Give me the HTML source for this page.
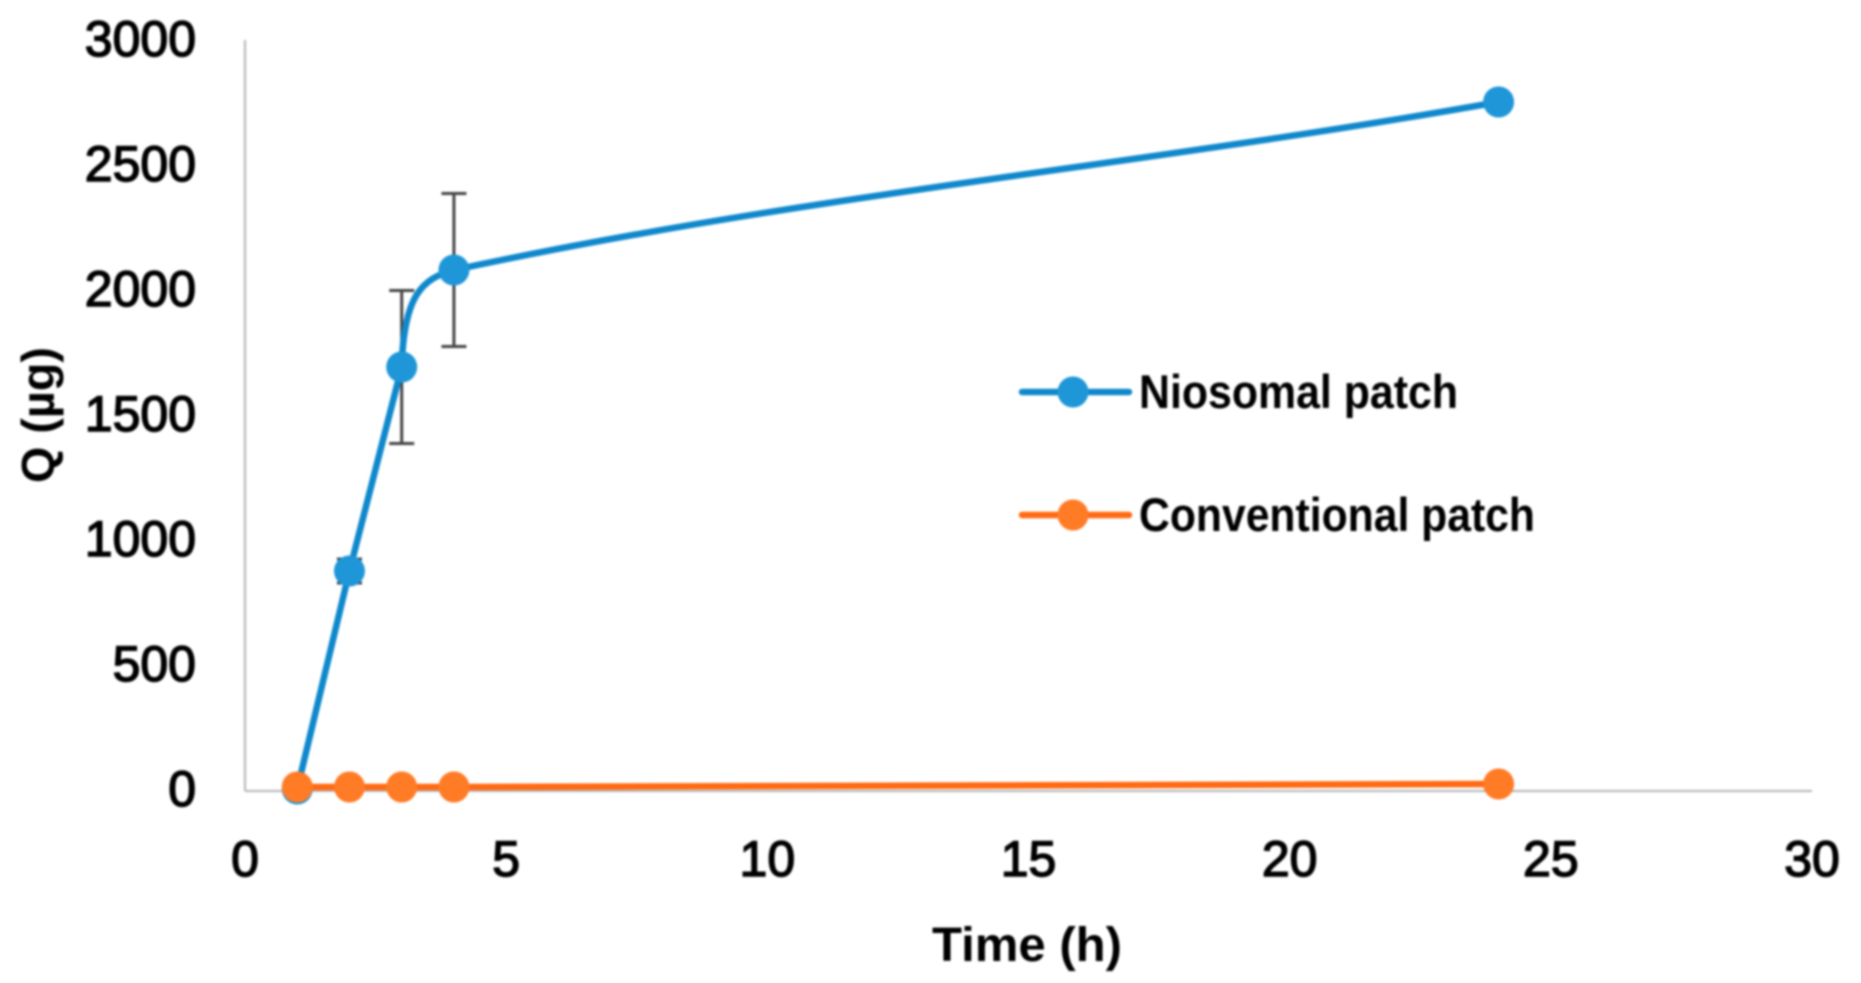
<!DOCTYPE html>
<html lang="en">
<head>
<meta charset="utf-8">
<title>Q vs Time chart</title>
<style>
  html, body { margin: 0; padding: 0; background: #fff; }
  body { width: 1861px; height: 983px; overflow: hidden; }
  svg { display: block; filter: blur(1.1px); }
  text { font-family: "Liberation Sans", sans-serif; fill: #000; }
  .tick { font-size: 50px; stroke: #000; stroke-width: 1.5px; }
  .title { font-size: 48px; font-weight: bold; }
  .legend { font-size: 47px; font-weight: bold; }
</style>
</head>
<body>
<svg id="chart" xmlns="http://www.w3.org/2000/svg" width="1861" height="983" viewBox="0 0 1861 983">
  <rect x="0" y="0" width="1861" height="983" fill="#ffffff"></rect>
  <g id="axes"></g>
  <g id="errors"></g>
  <g id="series"></g>
  <text class="title" x="1027" y="961" text-anchor="middle" textLength="190" lengthAdjust="spacingAndGlyphs">Time (h)</text>
  <text class="title" transform="translate(54,415) rotate(-90)" text-anchor="middle" textLength="136" lengthAdjust="spacingAndGlyphs" style="font-size:46px">Q (µg)</text>
  <g>
    <g>
      <line x1="1022" x2="1129" y1="392" y2="392" stroke="#0f88cc" stroke-width="6.5" stroke-linecap="round"></line>
      <circle cx="1073" cy="392" r="15.5" fill="#1e96d8"></circle>
      <text class="legend" x="1139" y="408" textLength="319" lengthAdjust="spacingAndGlyphs">Niosomal patch</text>
    </g>
    <g>
      <line x1="1022" x2="1129" y1="515" y2="515" stroke="#ff6a13" stroke-width="6.5" stroke-linecap="round"></line>
      <circle cx="1073" cy="515" r="15.5" fill="#ff7b26"></circle>
      <text class="legend" x="1139" y="531" textLength="396" lengthAdjust="spacingAndGlyphs">Conventional patch</text>
    </g>
  </g>
</svg>
<script>
const times = [1, 2, 3, 4, 24];
const niosomal = [8, 880, 1696, 2084, 2756];
const niosomalError = [0, 48, 306, 306, 0];
const conventional = [16, 16, 16, 16, 28];
const xTicks = [0, 5, 10, 15, 20, 25, 30];
const yTicks = [0, 500, 1000, 1500, 2000, 2500, 3000];

const NS = 'http://www.w3.org/2000/svg';
function xScale(v) { return 245 + v * (1812 - 245) / 30; }
function yScale(v) { return 791 - v * 0.25; }
function make(tag, parent, attrs) {
  const el = document.createElementNS(NS, tag);
  for (const k in attrs) el.setAttribute(k, attrs[k]);
  parent.appendChild(el);
  return el;
}

const axes = document.getElementById('axes');
const yAxis = make('line', axes, { x1: xScale(0), x2: xScale(0), y1: 40, y2: yScale(0), stroke: '#b5b5b5', 'stroke-width': 2 });


const xAxis = make('line', axes, { x1: xScale(0), x2: xScale(30), y1: yScale(0), y2: yScale(0), stroke: '#b5b5b5', 'stroke-width': 2 });



xTicks.forEach(function (t) {
  const el = make('text', axes, { class: 'tick', x: xScale(t), y: 876, 'text-anchor': 'middle' });
  
  
  el.textContent = t;
});
yTicks.forEach(function (t) {
  const el = make('text', axes, { class: 'tick', x: 196, y: yScale(t) + 15, 'text-anchor': 'end' });
  
  
  el.textContent = t;
});

const errors = document.getElementById('errors');
times.forEach(function (t, i) {
  const e = niosomalError[i];
  if (!e) return;
  const x = xScale(t), hi = yScale(niosomal[i] + e), lo = yScale(niosomal[i] - e);
  const stem = make('line', errors, { x1: x, x2: x, y1: hi, y2: lo, stroke: '#444444', 'stroke-width': 3 });
  
  
  [hi, lo].forEach(function (y) {
    const cap = make('line', errors, { x1: x - 12.5, x2: x + 12.5, y1: y, y2: y, stroke: '#444444', 'stroke-width': 3 });
    
    
  });
});

// Control-point fractions along each segment's dx/dy: [c1x, c1y, c2x, c2y]
function segmentShape(i, bend) {
  if (i === bend) return [0.04, 0.73, 0.62, 0.09];
  if (bend >= 0 && i === bend + 1) return [1 / 3, 0.446, 1 / 3, 0.37];
  return [1 / 3, 1 / 3, 1 / 3, 1 / 3];
}
function curvePath(xs, ys, bend) {
  let d = 'M' + xScale(xs[0]) + ' ' + yScale(ys[0]);
  for (let i = 0; i < xs.length - 1; i++) {
    const x0 = xScale(xs[i]), y0 = yScale(ys[i]), x1 = xScale(xs[i + 1]), y1 = yScale(ys[i + 1]);
    const s = segmentShape(i, bend), dx = x1 - x0, dy = y1 - y0;
    d += ' C' + (x0 + s[0] * dx) + ' ' + (y0 + s[1] * dy) + ' ' + (x1 - s[2] * dx) + ' ' + (y1 - s[3] * dy) + ' ' + x1 + ' ' + y1;
  }
  return d;
}
function drawSeries(values, lineColor, fillColor, bend) {
  const g = document.getElementById('series');
  const path = make('path', g, { d: curvePath(times, values, bend), fill: 'none', stroke: lineColor, 'stroke-width': 6.5 });
  
  
  times.forEach(function (t, i) {
    const dot = make('circle', g, { cx: xScale(t), cy: yScale(values[i]), r: 15.5, fill: fillColor });
    
    
  });
}
drawSeries(niosomal, '#0f88cc', '#1e96d8', 2);
drawSeries(conventional, '#ff6a13', '#ff7b26', -1);
</script>
</body>
</html>
